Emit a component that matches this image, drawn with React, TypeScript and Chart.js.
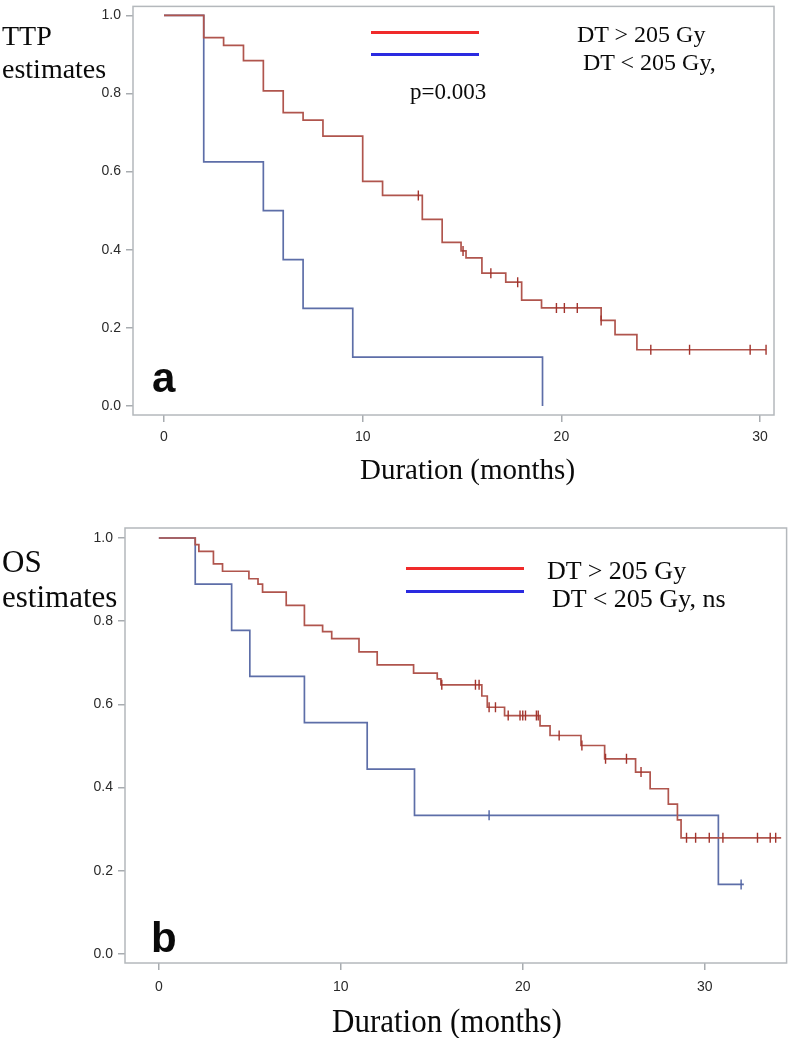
import React, { useEffect, useRef } from 'react';
import { Chart, registerables } from 'chart.js';

Chart.register(...registerables);

// ---------- Data (panel a: TTP) ----------
const TTP_HIGH_TIMES = [0, 2, 3, 4, 5, 6, 7, 8, 10, 11, 13, 14, 14.95, 15.2, 16, 17.2, 18, 19, 22, 22.7, 23.8, 30.3];
const TTP_HIGH_SURV = [1.0, 0.943, 0.923, 0.884, 0.807, 0.751, 0.732, 0.691, 0.575, 0.539, 0.478, 0.419, 0.397, 0.379, 0.34, 0.317, 0.271, 0.251, 0.219, 0.183, 0.144, 0.144];
const TTP_HIGH_CENSOR = [12.8, 15.05, 16.45, 17.8, 19.75, 20.15, 20.8, 22.0, 24.5, 26.45, 29.5, 30.3];

const TTP_LOW_TIMES = [0, 2, 5, 6, 7, 9.5, 19.05];
const TTP_LOW_SURV = [1.0, 0.625, 0.5, 0.375, 0.25, 0.125, 0.0];
const TTP_LOW_CENSOR: number[] = [];

// ---------- Data (panel b: OS) ----------
const OS_HIGH_TIMES = [0, 2, 2.2, 3, 3.5, 4.95, 5.45, 5.7, 7, 8, 9, 9.5, 11, 12, 14, 15.3, 15.5, 17.75, 18.05, 19.0, 20.95, 21.5, 23.2, 24.5, 26.2, 27, 28, 28.5, 28.7, 34.2];
const OS_HIGH_SURV = [1.0, 0.984, 0.968, 0.9375, 0.92, 0.902, 0.889, 0.87, 0.838, 0.79, 0.775, 0.758, 0.726, 0.695, 0.675, 0.661, 0.647, 0.62, 0.593, 0.573, 0.548, 0.525, 0.501, 0.469, 0.437, 0.397, 0.36, 0.322, 0.279, 0.279];
const OS_HIGH_CENSOR = [15.55, 17.4, 17.6, 18.15, 18.5, 19.2, 19.85, 20.0, 20.15, 20.75, 20.85, 22.0, 23.25, 24.55, 25.7, 26.5, 29.0, 29.5, 30.25, 31.0, 32.9, 33.6, 33.9];

const OS_LOW_TIMES = [0, 2, 4, 5, 8, 11.45, 14.05, 30.75, 32.15];
const OS_LOW_SURV = [1.0, 0.889, 0.778, 0.667, 0.556, 0.444, 0.333, 0.167, 0.167];
const OS_LOW_CENSOR = [18.15, 32.0];

// ---------- Tick labels ----------
const Y_TICKS = [0, 0.2, 0.4, 0.6, 0.8, 1.0];
const X_TICKS = [0, 10, 20, 30];

const RED_CURVE = '#b0554d';
const BLUE_CURVE = '#5d6ea8';
const RED_CENSOR = '#a2332c';
const BLUE_CENSOR = '#4f62a3';

function stepValue(times: number[], surv: number[], t: number) {
  let v = surv[0];
  for (let i = 0; i < times.length; i++) if (times[i] <= t) v = surv[i];
  return v;
}

const framePlugin = {
  id: 'frame',
  beforeDatasetsDraw(chart: any) {
    const a = chart.chartArea;
    const ctx = chart.ctx;
    ctx.save();
    ctx.strokeStyle = '#b4b8bc';
    ctx.lineWidth = 1.5;
    ctx.strokeRect(a.left, a.top, a.right - a.left, a.bottom - a.top);
    ctx.restore();
  },
};

type Series = { times: number[]; surv: number[]; censor: number[]; color: string; censorColor: string };

type PanelProps = {
  top: number;
  height: number;
  xMin: number;
  xMax: number;
  yMin: number;
  yMax: number;
  padTop: number;
  padRight: number;
  padBottom: number;
  yAxisWidth: number;
  xAxisHeight: number;
  yLabelPad: number;
  xLabelPad: number;
  series: Series[];
};

function KMPanel(p: PanelProps) {
  const ref = useRef<HTMLCanvasElement | null>(null);
  useEffect(() => {
    if (!ref.current) return;
    const datasets: any[] = [];
    p.series.forEach((s) => {
      datasets.push({
        type: 'line',
        data: s.times.map((t, i) => ({ x: t, y: s.surv[i] })),
        stepped: true,
        borderColor: s.color,
        borderWidth: 1.7,
        pointRadius: 0,
        fill: false,
        order: 2,
      });
    });
    p.series.forEach((s) => {
      datasets.push({
        type: 'line',
        data: s.censor.map((t) => ({ x: t, y: stepValue(s.times, s.surv, t) })),
        showLine: false,
        pointStyle: 'line',
        rotation: 90,
        pointRadius: 5,
        borderColor: s.censorColor,
        backgroundColor: s.censorColor,
        pointBorderWidth: 1.4,
        order: 1,
      });
    });
    const tickFont = { family: '"Liberation Sans", Arial, sans-serif', size: 14 };
    const chart = new Chart(ref.current, {
      type: 'line',
      data: { datasets },
      plugins: [framePlugin],
      options: {
        animation: false,
        responsive: false,
        devicePixelRatio: 1,
        layout: { padding: { left: 0, top: p.padTop, right: p.padRight, bottom: p.padBottom } },
        plugins: { legend: { display: false }, tooltip: { enabled: false } },
        events: [],
        scales: {
          x: {
            type: 'linear',
            min: p.xMin,
            max: p.xMax,
            border: { display: false },
            grid: { display: true, drawOnChartArea: false, drawTicks: true, tickLength: 7, tickColor: '#a8acb0', lineWidth: 1.5 },
            ticks: { color: '#2a2a2a', font: tickFont, padding: p.xLabelPad, maxRotation: 0, callback: (v: any) => String(v) },
            afterBuildTicks: (scale: any) => {
              scale.ticks = X_TICKS.map((value) => ({ value }));
            },
            afterFit: (scale: any) => {
              scale.height = p.xAxisHeight;
              scale.paddingLeft = 0;
              scale.paddingRight = 0;
              scale.paddingTop = 0;
              scale.paddingBottom = 0;
            },
          },
          y: {
            type: 'linear',
            min: p.yMin,
            max: p.yMax,
            border: { display: false },
            grid: { display: true, drawOnChartArea: false, drawTicks: true, tickLength: 7, tickColor: '#a8acb0', lineWidth: 1.5 },
            ticks: { color: '#2a2a2a', font: tickFont, padding: p.yLabelPad, callback: (v: any) => Number(v).toFixed(1) },
            afterBuildTicks: (scale: any) => {
              scale.ticks = Y_TICKS.map((value) => ({ value }));
            },
            afterFit: (scale: any) => {
              scale.width = p.yAxisWidth;
              scale.paddingLeft = 0;
              scale.paddingRight = 0;
              scale.paddingTop = 0;
              scale.paddingBottom = 0;
            },
          },
        },
      } as any,
    });
    return () => chart.destroy();
  }, []);
  return (
    <canvas
      ref={ref}
      width={793}
      height={p.height}
      style={{ position: 'absolute', left: 0, top: p.top, width: 793, height: p.height }}
    />
  );
}

function T(props: { x: number; base: number; size: number; serif?: boolean; bold?: boolean; sy?: number; children: React.ReactNode }) {
  const k = props.serif ? 0.8375 : 0.8465;
  const sy = props.sy ?? 1;
  return (
    <div
      style={{
        position: 'absolute',
        left: props.x,
        top: props.base - k * props.size,
        fontSize: props.size,
        lineHeight: `${props.size}px`,
        fontFamily: props.serif ? '"Liberation Serif", "Times New Roman", serif' : '"Liberation Sans", Arial, sans-serif',
        fontWeight: props.bold ? 700 : 400,
        whiteSpace: 'pre',
        color: '#0a0a0a',
        transform: sy !== 1 ? `scaleY(${sy})` : undefined,
        transformOrigin: `0 ${k * props.size}px`,
      }}
    >
      {props.children}
    </div>
  );
}

function Bar(props: { x1: number; x2: number; y: number; color: string }) {
  return (
    <div
      style={{
        position: 'absolute',
        left: props.x1,
        top: props.y - 1.5,
        width: props.x2 - props.x1,
        height: 3,
        background: props.color,
      }}
    />
  );
}

export default function App() {
  return (
    <div style={{ position: 'absolute', left: 0, top: 0, width: 793, height: 1038, background: '#fff', overflow: 'hidden' }}>
      <KMPanel
        top={0}
        height={500}
        xMin={-1.56}
        xMax={30.7}
        yMin={-0.023}
        yMax={1.023}
        padTop={2}
        padRight={19}
        padBottom={40}
        yAxisWidth={133}
        xAxisHeight={45}
        yLabelPad={5}
        xLabelPad={7}
        series={[
          { times: TTP_HIGH_TIMES, surv: TTP_HIGH_SURV, censor: TTP_HIGH_CENSOR, color: RED_CURVE, censorColor: RED_CENSOR },
          { times: TTP_LOW_TIMES, surv: TTP_LOW_SURV, censor: TTP_LOW_CENSOR, color: BLUE_CURVE, censorColor: BLUE_CENSOR },
        ]}
      />
      <KMPanel
        top={500}
        height={538}
        xMin={-1.86}
        xMax={34.5}
        yMin={-0.022}
        yMax={1.024}
        padTop={28}
        padRight={2}
        padBottom={35}
        yAxisWidth={125}
        xAxisHeight={40}
        yLabelPad={5}
        xLabelPad={9}
        series={[
          { times: OS_HIGH_TIMES, surv: OS_HIGH_SURV, censor: OS_HIGH_CENSOR, color: RED_CURVE, censorColor: RED_CENSOR },
          { times: OS_LOW_TIMES, surv: OS_LOW_SURV, censor: OS_LOW_CENSOR, color: BLUE_CURVE, censorColor: BLUE_CENSOR },
        ]}
      />

      {/* Panel a texts */}
      <T x={2} base={45} size={28} serif>TTP</T>
      <T x={2} base={78} size={28} serif>estimates</T>
      <Bar x1={371} x2={479} y={32.3} color="#f02a2a" />
      <Bar x1={371} x2={479} y={54} color="#2a2ae0" />
      <T x={577} base={42} size={24} serif>{'DT > 205 Gy'}</T>
      <T x={583} base={70} size={24} serif>{'DT < 205 Gy,'}</T>
      <T x={410} base={99} size={23} serif>p=0.003</T>
      <T x={152} base={393} size={42} bold>a</T>
      <T x={360} base={479} size={29} serif>Duration (months)</T>

      {/* Panel b texts */}
      <T x={2} base={572} size={31} serif>OS</T>
      <T x={2} base={607} size={31} serif>estimates</T>
      <Bar x1={406} x2={524} y={568.3} color="#f02a2a" />
      <Bar x1={406} x2={524} y={591} color="#2a2ae0" />
      <T x={547} base={580} size={26} serif>{'DT > 205 Gy'}</T>
      <T x={552} base={608} size={26} serif>{'DT < 205 Gy, ns'}</T>
      <T x={151} base={953} size={42} bold>b</T>
      <T x={332} base={1032} size={31} serif sy={1.12}>Duration (months)</T>
    </div>
  );
}
